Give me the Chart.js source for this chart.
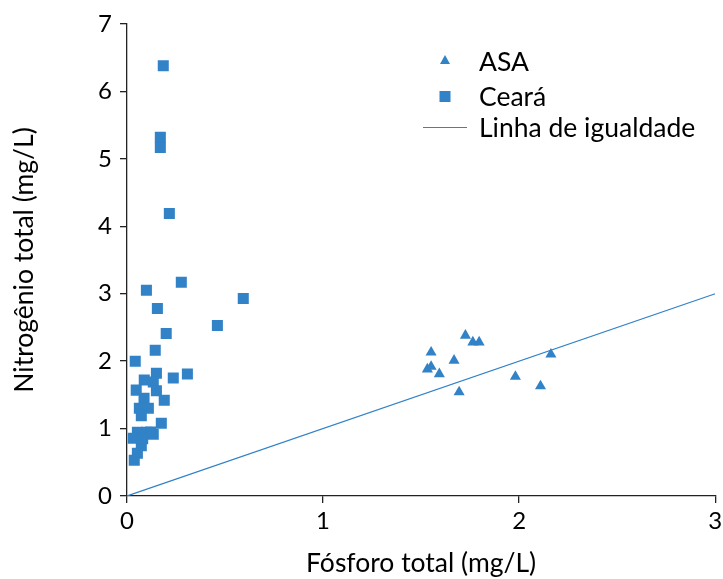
<!DOCTYPE html>
<html>
<head>
<meta charset="utf-8">
<script src="https://cdn.jsdelivr.net/npm/chart.js@4/dist/chart.umd.min.js"></script>
<style>
  html, body { margin: 0; padding: 0; background: #fff; }
  #grafico { display: block; }
</style>
</head>
<body>
<canvas id="grafico" width="723" height="579"></canvas>
<script>
// Dados (P total x N total, mg/L)
const asaFosforo = [1.726, 1.764, 1.796, 1.551, 1.668, 2.162, 1.551, 1.532, 1.593, 1.981, 2.109, 1.694];
const asaNitrogenio = [2.38, 2.28, 2.28, 2.13, 2.01, 2.10, 1.92, 1.88, 1.81, 1.77, 1.63, 1.54];

const cearaFosforo = [0.185, 0.170, 0.170, 0.216, 0.277, 0.099, 0.593, 0.155, 0.461, 0.200,
  0.144, 0.042, 0.150, 0.308, 0.088, 0.236, 0.134, 0.047, 0.150, 0.087,
  0.190, 0.063, 0.109, 0.073, 0.175, 0.053, 0.100, 0.134, 0.032, 0.073,
  0.053, 0.037, 0.120, 0.080];
const cearaNitrogenio = [6.38, 5.32, 5.17, 4.19, 3.17, 3.05, 2.93, 2.78, 2.53, 2.41,
  2.16, 2.00, 1.82, 1.81, 1.72, 1.75, 1.69, 1.57, 1.56, 1.45,
  1.42, 1.30, 1.30, 1.19, 1.08, 0.945, 0.945, 0.915, 0.856, 0.746,
  0.634, 0.53, 0.95, 0.85];

const igualdadeX = [0, 3];
const igualdadeY = [0, 3];

const xTicks = [0, 1, 2, 3];
const yTicks = [0, 1, 2, 3, 4, 5, 6, 7];

const legendas = ['ASA', 'Ceará', 'Linha de igualdade'];

const azul = '#3182C7';
const fonte = 'Lato';

//------------------------------------------------------------

function pares(xs, ys) {
  return xs.map((x, i) => ({ x: x, y: ys[i] }));
}

// Legenda desenhada dentro da área do gráfico
const legendaPlugin = {
  id: 'legendaInterna',
  afterDraw(chart) {
    const ctx = chart.ctx;
    ctx.save();
    ctx.fillStyle = azul;
    // triângulo
    ctx.beginPath();
    ctx.moveTo(445, 55);
    ctx.lineTo(450, 64);
    ctx.lineTo(440, 64);
    ctx.closePath();
    ctx.fill();
    // quadrado
    ctx.fillRect(439.5, 91, 11, 11);
    // linha
    ctx.strokeStyle = azul;
    ctx.lineWidth = 1.2;
    ctx.beginPath();
    ctx.moveTo(423, 127.5);
    ctx.lineTo(467, 127.5);
    ctx.stroke();

    ctx.fillStyle = '#000';
    ctx.font = '26.5px ' + fonte;
    ctx.textBaseline = 'middle';
    ctx.fillText(legendas[0], 479, 62);
    ctx.fillText(legendas[1], 479, 97);
    ctx.fillText(legendas[2], 479, 128);
    ctx.restore();
  }
};

const config = {
  type: 'scatter',
  data: {
    datasets: [
      {
        label: legendas[2],
        type: 'line',
        data: pares(igualdadeX, igualdadeY),
        borderColor: azul,
        borderWidth: 1.2,
        pointRadius: 0,
        fill: false,
        order: 3
      },
      {
        label: legendas[0],
        data: pares(asaFosforo, asaNitrogenio),
        pointStyle: 'triangle',
        pointRadius: 6.4,
        backgroundColor: azul,
        borderColor: azul,
        borderWidth: 0,
        order: 1
      },
      {
        label: legendas[1],
        data: pares(cearaFosforo, cearaNitrogenio),
        pointStyle: 'rect',
        pointRadius: 7.8,
        backgroundColor: azul,
        borderColor: azul,
        borderWidth: 0,
        order: 2
      }
    ]
  },
  options: {
    responsive: false,
    animation: false,
    layout: { padding: { top: 24, right: 7, left: 0, bottom: 0 } },
    plugins: {
      legend: { display: false },
      tooltip: { enabled: false }
    },
    scales: {
      x: {
        type: 'linear',
        min: 0,
        max: 3,
        afterBuildTicks: (s) => { s.ticks = xTicks.map(v => ({ value: v })); },
        afterFit: (s) => { s.height = 83; s.paddingRight = 0; s.paddingLeft = 0; },
        grid: { display: true, drawOnChartArea: false, drawTicks: true, tickLength: 7, color: '#222', lineWidth: 1.3 },
        border: { display: true, color: '#222', width: 1.3 },
        ticks: { color: '#000', font: { family: fonte, size: 24 }, padding: 4, maxRotation: 0 },
        title: { display: true, text: 'Fósforo total (mg/L)', color: '#000', font: { family: fonte, size: 26.5 }, padding: { top: 1, bottom: 0 } }
      },
      y: {
        type: 'linear',
        min: 0,
        max: 7,
        afterBuildTicks: (s) => { s.ticks = yTicks.map(v => ({ value: v })); },
        afterFit: (s) => { s.width = 127; s.paddingTop = 0; s.paddingBottom = 0; },
        grid: { display: true, drawOnChartArea: false, drawTicks: true, tickLength: 7, color: '#222', lineWidth: 1.3 },
        border: { display: true, color: '#222', width: 1.3 },
        ticks: { color: '#000', font: { family: fonte, size: 24 }, padding: 8 },
        title: { display: true, text: 'Nitrogênio total (mg/L)', color: '#000', font: { family: fonte, size: 26.5 }, padding: { top: 9, bottom: 0 } }
      }
    }
  },
  plugins: [legendaPlugin]
};

const grafico = new Chart(document.getElementById('grafico'), config);
</script>
</body>
</html>
